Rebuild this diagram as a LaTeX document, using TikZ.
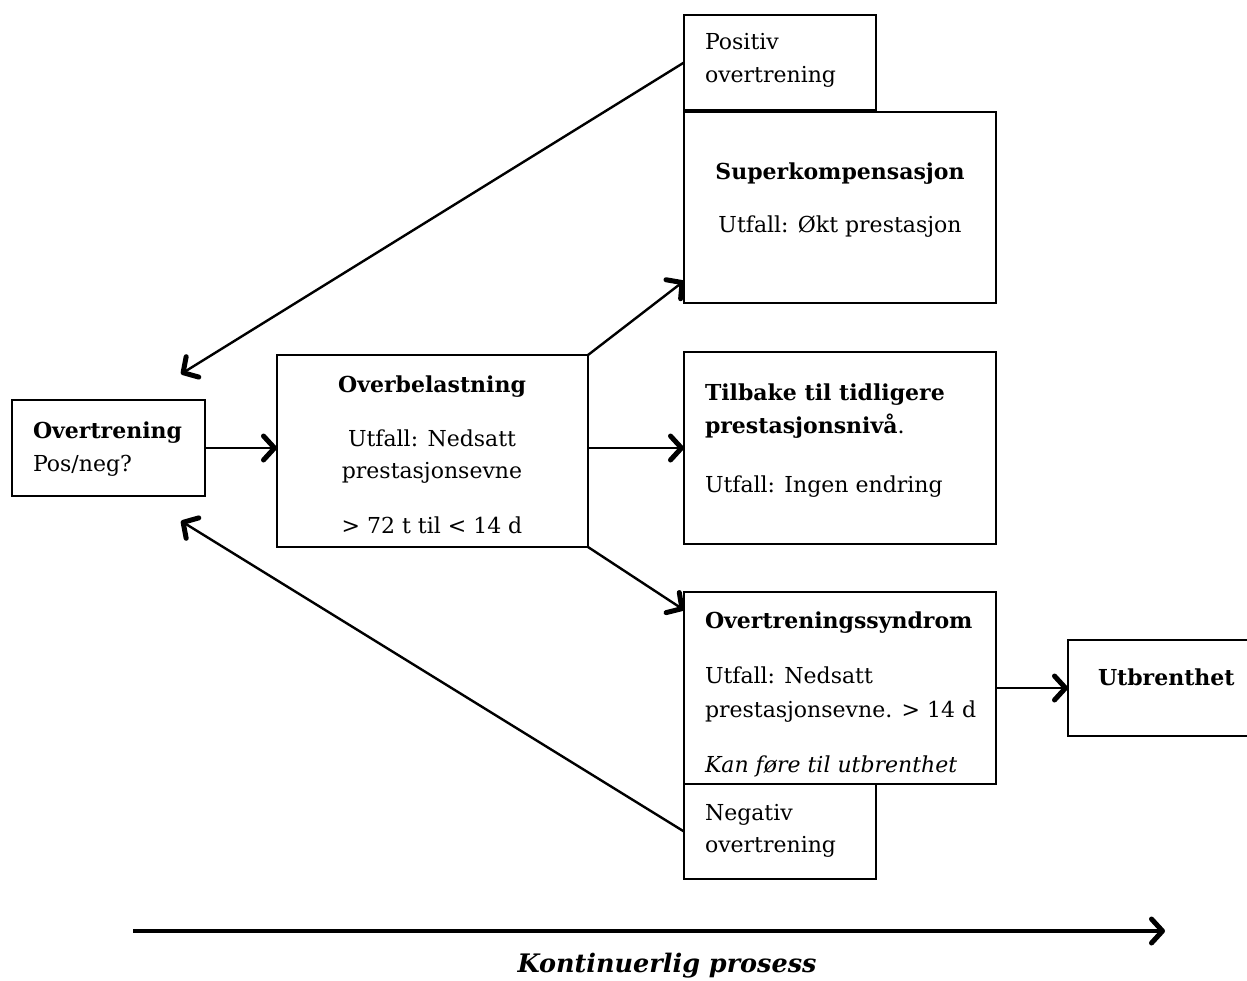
\documentclass[tikz,border=0pt]{standalone}
\usepackage{fontspec}
\setmainfont{DejaVu Serif}
\usetikzlibrary{arrows.meta,calc}
\begin{document}
\begin{tikzpicture}[x=1pt,y=-1pt,
  box/.style={draw, line width=1.5pt, inner sep=0pt, outer sep=0pt, anchor=north west},
  txt/.style={inner sep=0pt, outer sep=0pt, anchor=base west, font=\fontsize{22}{26}\selectfont},
  ctxt/.style={txt, anchor=base},
  conn/.style={line width=2.4pt, -{Straight Barb[length=11pt,width=24pt,line width=5pt,round]}}
]
\useasboundingbox (0,0) rectangle (1247,980);

% boxes
\node[box, minimum width=193, minimum height=96] (ot) at (12,400) {};
\node[box, minimum width=311, minimum height=192] (ob) at (277,355) {};
\node[box, minimum width=192, minimum height=95] (po) at (684,15) {};
\node[box, minimum width=312, minimum height=191] (sk) at (684,112) {};
\node[box, minimum width=312, minimum height=192] (tb) at (684,352) {};
\node[box, minimum width=312, minimum height=192] (os) at (684,592) {};
\node[box, minimum width=192, minimum height=95] (ne) at (684,784) {};
\node[box, minimum width=240, minimum height=96] (ub) at (1068,640) {};

% texts
\node[txt] (ot1) at (33,438) {\bfseries Overtrening};
\node[txt] (ot2) at (33,471) {Pos/neg?};

\node[ctxt] (ob1) at (432,392) {\bfseries Overbelastning};
\node[ctxt] (ob2) at (432,446) {Utfall: Nedsatt};
\node[ctxt] (ob3) at (432,478) {prestasjonsevne};
\node[ctxt] (ob4) at (432,533) {> 72 t til < 14 d};

\node[txt] (po1) at (705,49) {Positiv};
\node[txt] (po2) at (705,82) {overtrening};

\node[ctxt] (sk1) at (840,179) {\bfseries Superkompensasjon};
\node[ctxt] (sk2) at (840,232) {Utfall: Økt prestasjon};

\node[txt] (tb1) at (705,400) {\bfseries Tilbake til tidligere};
\node[txt] (tb2) at (705,433) {\textbf{prestasjonsnivå}.};
\node[txt] (tb3) at (705,492) {Utfall: Ingen endring};

\node[txt] (os1) at (705,628) {\bfseries Overtreningssyndrom};
\node[txt] (os2) at (705,683) {Utfall: Nedsatt};
\node[txt] (os3) at (705,717) {prestasjonsevne. > 14 d};
\node[txt] (os4) at (705,772) {\itshape Kan føre til utbrenthet};

\node[txt] (ne1) at (705,820) {Negativ};
\node[txt] (ne2) at (705,852) {overtrening};

\node[txt] (ub1) at (1098,685) {\bfseries Utbrenthet};

\node[ctxt, font=\fontsize{25.5}{30}\selectfont\bfseries\itshape] (kp) at (667,972) {Kontinuerlig prosess};

% connectors
\coordinate (pEnd) at (181,374);
\coordinate (nEnd) at (181,521);
\coordinate (bs) at (133,931);
\coordinate (be) at (1165,931);

\draw[conn] (po.west) -- (pEnd);
\draw[conn] (ne.west) -- (nEnd);
\draw[conn] (ot.east) -- (ot.east -| ob.west);
\draw[conn] (ob.north east) -- ($(sk.south west)+(0,-22)$);
\draw[conn] (ob.east |- tb.west) -- (tb.west);
\draw[conn] (ob.south east) -- ($(os.north west)+(0,18)$);
\draw[conn] (os.east) -- (os.east -| ub.west);
\draw[conn, line width=3.4pt] (bs) -- (be);
\end{tikzpicture}
\end{document}
